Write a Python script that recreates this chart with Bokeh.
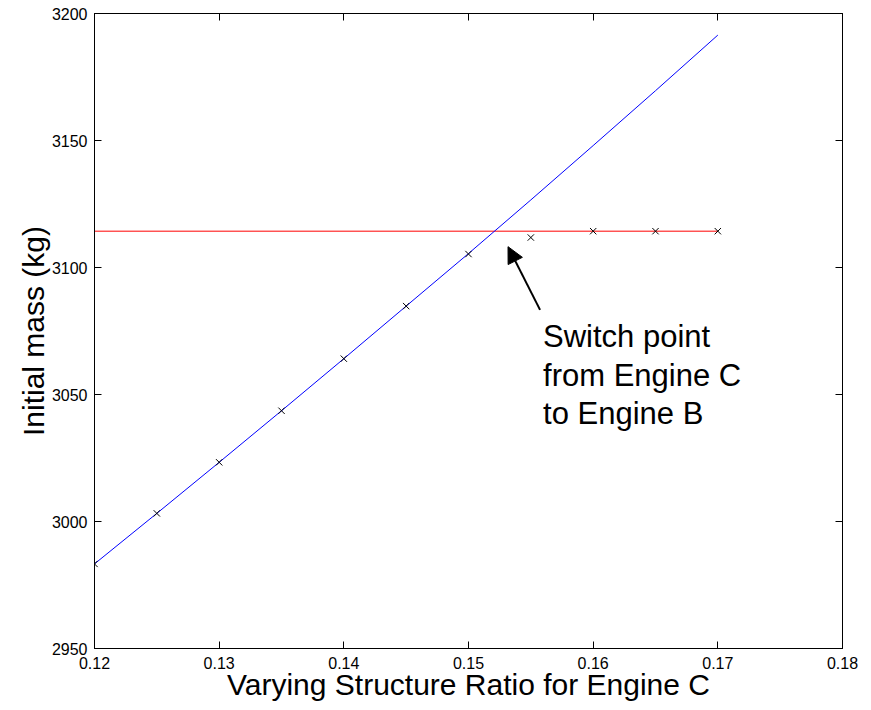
from bokeh.plotting import figure
from bokeh.models import LinearAxis, Range1d, Arrow, NormalHead, Label, FixedTicker, CustomJSTickFormatter
from bokeh.embed import file_html
from bokeh.resources import INLINE

# ---- data ----
blue_x = [0.12, 0.125, 0.13, 0.135, 0.14, 0.145, 0.15, 0.155, 0.16, 0.165, 0.17]
blue_y = [2983.3, 3003.2, 3023.3, 3043.6, 3064.1, 3084.8, 3105.5, 3126.6, 3148.0, 3169.6, 3191.5]

mark_x = [0.12, 0.125, 0.13, 0.135, 0.14, 0.145, 0.15, 0.155, 0.16, 0.165, 0.17]
mark_y = [2983.3, 3003.2, 3023.3, 3043.6, 3064.1, 3084.8, 3105.3, 3111.8, 3114.3, 3114.3, 3114.3]

red_x = [0.12, 0.17]
red_y = [3114.3, 3114.3]

x_ticks = [0.12, 0.13, 0.14, 0.15, 0.16, 0.17, 0.18]
y_ticks = [2950, 3000, 3050, 3100, 3150, 3200]

note_lines = ["Switch point", "from Engine C", "to Engine B"]
note_x = 0.15598
note_y = [3072.75, 3057.65, 3042.67]
arrow_tail = (0.15574, 3083.3)
arrow_head = (0.15317, 3108.2)

FONT = "Liberation Sans"

p = figure(width=860, height=704, output_backend="svg", toolbar_location=None,
           x_range=Range1d(0.12, 0.18), y_range=Range1d(2950, 3200),
           min_border_left=94, min_border_top=13, min_border_right=18, min_border_bottom=56)
p.background_fill_color = "white"
p.border_fill_color = "white"
p.grid.visible = False
p.outline_line_color = "black"
p.outline_line_width = 1

def style_axis(ax, ticks, show_labels):
    ax.ticker = FixedTicker(ticks=ticks)
    ax.major_tick_in = 7
    ax.major_tick_out = 0
    ax.minor_tick_in = 0
    ax.minor_tick_out = 0
    ax.major_tick_line_color = "black"
    ax.axis_line_color = "black"
    ax.axis_line_width = 1
    ax.major_label_text_font = FONT
    ax.major_label_text_font_size = "16px"
    ax.major_label_text_color = "black"
    ax.axis_label_text_font = FONT
    ax.axis_label_text_font_size = "30px"
    ax.axis_label_text_font_style = "normal"
    ax.axis_label_text_color = "black"
    if not show_labels:
        ax.formatter = CustomJSTickFormatter(code="return ''")
        ax.major_label_standoff = 0

xa = p.xaxis[0]
ya = p.yaxis[0]
style_axis(xa, x_ticks, True)
style_axis(ya, y_ticks, True)
xa.axis_label = "Varying Structure Ratio for Engine C"
ya.axis_label = "Initial mass (kg)"
xa.major_label_standoff = 8
ya.major_label_standoff = 7
xa.axis_label_standoff = -4
ya.axis_label_standoff = -1

top = LinearAxis()
right = LinearAxis()
style_axis(top, x_ticks, False)
style_axis(right, y_ticks, False)
p.add_layout(top, "above")
p.add_layout(right, "right")

p.line(red_x, red_y, line_color="#ff0000", line_width=1)
p.line(blue_x, blue_y, line_color="#0000ff", line_width=1)
p.scatter(mark_x, mark_y, marker="x", size=9, line_color="black", line_width=1)

p.add_layout(Arrow(end=NormalHead(size=16, fill_color="black", line_color="black"),
                   x_start=arrow_tail[0], y_start=arrow_tail[1],
                   x_end=arrow_head[0], y_end=arrow_head[1],
                   line_color="black", line_width=2))

for t, yy in zip(note_lines, note_y):
    p.add_layout(Label(x=note_x, y=yy, text=t, text_font=FONT, text_font_size="31px",
                       text_color="black", text_baseline="alphabetic", text_align="left"))

open("out.html", "w").write(file_html(p, INLINE))
